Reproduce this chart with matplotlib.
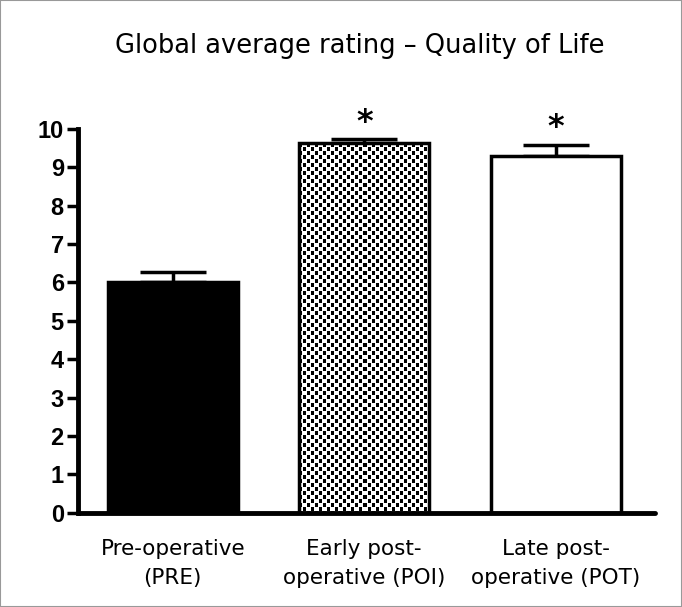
import numpy as np
import matplotlib
matplotlib.use("Agg")
import matplotlib.pyplot as plt
from matplotlib.patches import Rectangle

# data
groups = ["Pre-operative\n(PRE)", "Early post-\noperative (POI)", "Late post-\noperative (POT)"]
means = [6.0, 9.62, 9.28]
errors = [0.26, 0.1, 0.3]
signif = ["", "*", "*"]

fig = plt.figure(figsize=(6.82, 6.07), dpi=100)
ax = fig.add_axes([0.114, 0.155, 0.846, 0.633])

x = np.arange(len(groups))
bars = ax.bar(x, means, width=0.68, color=["black", "none", "white"],
              edgecolor="black", linewidth=2.5, zorder=2)
ax.errorbar(x, means, yerr=[np.zeros(len(errors)), errors], fmt="none",
            ecolor="black", elinewidth=2.5, capsize=24, capthick=2.5, zorder=1)

xlim = (-0.496, 2.517)
ax.set_xlim(*xlim)
ax.set_ylim(0, 10)

# checkered fill for the middle bar: 4 px cells
b = bars[1]
(x0, y0), (x1, y1) = ax.transData.transform([(b.get_x(), 0),
                                             (b.get_x() + b.get_width(), b.get_height())])
ncol = int(round(x1 - x0))
nrow = int(round(y1 - y0))
ii, jj = np.indices((nrow, ncol))
checker = (((ii // 4 + jj // 4) % 2 == 0) & (jj % 4 < 3)).astype(float)
im = ax.imshow(checker, cmap="gray_r", vmin=0, vmax=1, interpolation="nearest",
               extent=[b.get_x(), b.get_x() + b.get_width(), 0, b.get_height()],
               aspect="auto", zorder=1.5)
im.set_clip_path(b)
ax.set_xlim(*xlim)
ax.set_ylim(0, 10)

for xi, m, e, s in zip(x, means, errors, signif):
    if s:
        ax.text(xi, m + e + 0.05, s, ha="center", va="bottom", fontsize=23,
                fontweight="bold", family="DejaVu Sans")

ax.set_yticks(range(0, 11))
ax.set_xticks(x)
ax.set_xticklabels(groups, fontsize=15.5, family="DejaVu Sans", linespacing=1.55)
for lbl in ax.get_yticklabels():
    lbl.set_fontfamily("Liberation Sans")
    lbl.set_fontweight("bold")
    lbl.set_fontsize(17)
ax.tick_params(axis="y", length=8, width=2.5, pad=2)
ax.tick_params(axis="x", length=0, pad=19)
for side in ["top", "right"]:
    ax.spines[side].set_visible(False)
ax.spines["left"].set_linewidth(3.5)
ax.spines["bottom"].set_linewidth(3.5)
ax.spines["bottom"].set_capstyle("round")

fig.text(0.528, 0.925, "Global average rating \u2013 Quality of Life", ha="center",
         va="center", fontsize=18.5, family="DejaVu Sans")

fig.patches.append(Rectangle((0, 0), 1, 1, transform=fig.transFigure, fill=False,
                             edgecolor="#999999", linewidth=1.5))

fig.savefig("out.png", dpi=100)
